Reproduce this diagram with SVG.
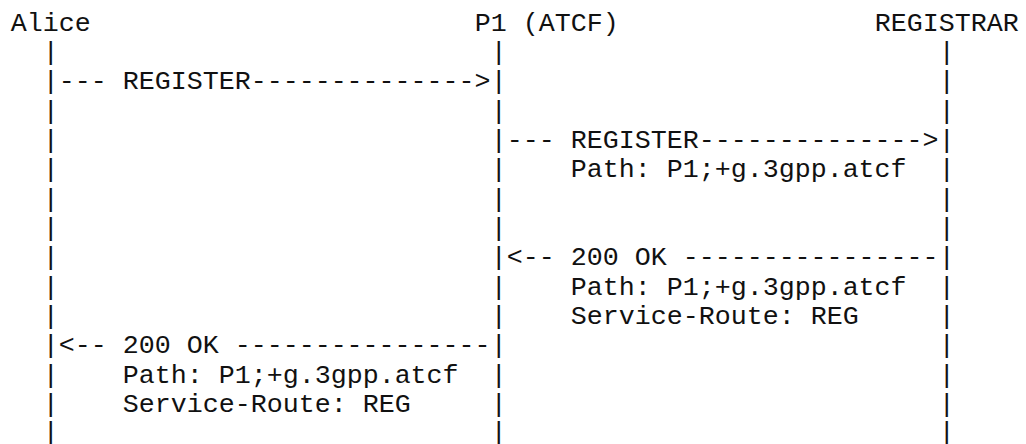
<svg xmlns="http://www.w3.org/2000/svg" width="1026" height="444" viewBox="0 0 1026 444">
<style>
text { font-family: "Courier New", "Nimbus Mono PS", "Nimbus Mono L", "FreeMono", "Liberation Mono", monospace; font-size: 26.667px; fill: #111; white-space: pre; }
</style>
<rect width="1026" height="444" fill="#fff"/>
<g id="alice">
<text x="10.7" y="30.7">Alice</text>
<text xml:space="preserve"><tspan x="42.7" y="60">|</tspan><tspan x="42.7" y="89.4">|</tspan><tspan x="42.7" y="118.7">|</tspan><tspan x="42.7" y="148">|</tspan><tspan x="42.7" y="177.4">|</tspan><tspan x="42.7" y="206.7">|</tspan><tspan x="42.7" y="236">|</tspan><tspan x="42.7" y="265.4">|</tspan><tspan x="42.7" y="294.7">|</tspan><tspan x="42.7" y="324">|</tspan><tspan x="42.7" y="353.4">|</tspan><tspan x="42.7" y="382.7">|</tspan><tspan x="42.7" y="412">|</tspan><tspan x="42.7" y="440">|</tspan></text>
</g>
<g id="p1">
<text x="474.7" y="30.7">P1 (ATCF)</text>
<text xml:space="preserve"><tspan x="490.7" y="60">|</tspan><tspan x="490.7" y="89.4">|</tspan><tspan x="490.7" y="118.7">|</tspan><tspan x="490.7" y="148">|</tspan><tspan x="490.7" y="177.4">|</tspan><tspan x="490.7" y="206.7">|</tspan><tspan x="490.7" y="236">|</tspan><tspan x="490.7" y="265.4">|</tspan><tspan x="490.7" y="294.7">|</tspan><tspan x="490.7" y="324">|</tspan><tspan x="490.7" y="353.4">|</tspan><tspan x="490.7" y="382.7">|</tspan><tspan x="490.7" y="412">|</tspan><tspan x="490.7" y="440">|</tspan></text>
</g>
<g id="registrar">
<text x="874.7" y="30.7">REGISTRAR</text>
<text xml:space="preserve"><tspan x="938.7" y="60">|</tspan><tspan x="938.7" y="89.4">|</tspan><tspan x="938.7" y="118.7">|</tspan><tspan x="938.7" y="148">|</tspan><tspan x="938.7" y="177.4">|</tspan><tspan x="938.7" y="206.7">|</tspan><tspan x="938.7" y="236">|</tspan><tspan x="938.7" y="265.4">|</tspan><tspan x="938.7" y="294.7">|</tspan><tspan x="938.7" y="324">|</tspan><tspan x="938.7" y="353.4">|</tspan><tspan x="938.7" y="382.7">|</tspan><tspan x="938.7" y="412">|</tspan><tspan x="938.7" y="440">|</tspan></text>
</g>
<g id="connectors">
<text x="58.7" y="89.4" xml:space="preserve">--- REGISTER--------------&gt;</text>
<text x="506.7" y="148" xml:space="preserve">--- REGISTER--------------&gt;</text>
<text x="570.7" y="177.4" xml:space="preserve">Path: P1;+g.3gpp.atcf</text>
<text x="506.7" y="265.4" xml:space="preserve">&lt;-- 200 OK ----------------</text>
<text x="570.7" y="294.7" xml:space="preserve">Path: P1;+g.3gpp.atcf</text>
<text x="570.7" y="324" xml:space="preserve">Service-Route: REG</text>
<text x="58.7" y="353.4" xml:space="preserve">&lt;-- 200 OK ----------------</text>
<text x="122.7" y="382.7" xml:space="preserve">Path: P1;+g.3gpp.atcf</text>
<text x="122.7" y="412" xml:space="preserve">Service-Route: REG</text>
</g>
</svg>
